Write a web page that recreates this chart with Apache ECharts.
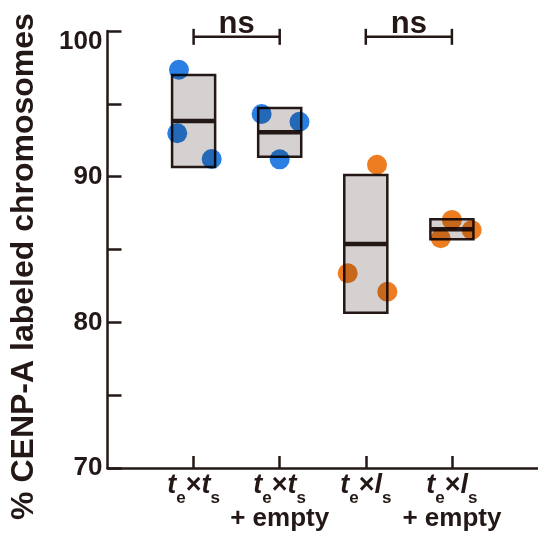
<!DOCTYPE html>
<html><head><meta charset="utf-8">
<script src="https://cdn.jsdelivr.net/npm/echarts/dist/echarts.min.js"></script>
<style>html,body{margin:0;padding:0;background:#fff}#c{width:538px;height:538px}</style>
</head><body><div id="c"></div>
<script>
// ---- data ----
const groupX = [1, 2, 3, 4];
const labelSecondLetter = ['t', 't', 'l', 'l'];
const labelExtraLine = ['', '+ empty', '', '+ empty'];
const boxLow = [90.66, 91.37, 80.66, 85.70];
const boxHigh = [96.98, 94.71, 90.11, 87.07];
const boxMean = [93.82, 93.05, 85.38, 86.39];
const dotX = [[0.83, 0.81, 1.21], [1.79, 2.23, 2.00], [3.13, 2.79, 3.25], [4.00, 4.23, 3.87]];
const dotY = [[97.34, 92.98, 91.21], [94.30, 93.77, 91.19], [90.82, 83.37, 82.10], [87.03, 86.34, 85.77]];
const groupColor = ['#2b7fe2', '#2b7fe2', '#ee7d22', '#ee7d22'];
const bracketFrom = [1, 3];
const bracketTo = [2, 4];
const bracketY = [99.6, 99.6];
const bracketText = ['ns', 'ns'];
const yMin = 70, yMax = 100, yTickStep = 5, yLabelStep = 10;
const yTitle = '% CENP-A labeled chromosomes';

// ---- style ----
const INK = '#231815';
const FONT = '"Liberation Sans", Arial, sans-serif';
const BOX_HALF = 0.25;

const boxData = groupX.map((x, i) => [x, boxLow[i], boxHigh[i], boxMean[i]]);
const dotData = [];
dotX.forEach((xs, g) => xs.forEach((x, k) => dotData.push({ value: [x, dotY[g][k]], itemStyle: { color: groupColor[g] } })));
const bracketData = bracketFrom.map((f, i) => [f, bracketTo[i], bracketY[i]]);

const chart = echarts.init(document.getElementById('c'), null, { renderer: 'canvas' });
chart.setOption({
  animation: false,
  backgroundColor: '#fff',
  textStyle: { fontFamily: FONT, color: INK },
  grid: { left: 107.5, right: 0, top: 31, bottom: 70, containLabel: false, outerBoundsMode: 'none' },
  xAxis: {
    type: 'value', min: 0, max: 5, interval: 1,
    axisLine: { show: true, onZero: false, lineStyle: { color: INK, width: 2.5 } },
    axisTick: { show: true, inside: true, length: 12, customValues: groupX, lineStyle: { color: INK, width: 2.5 } },
    splitLine: { show: false },
    axisLabel: {
      customValues: groupX, margin: 3, hideOverlap: false, color: INK,
      formatter: (v) => {
        const i = groupX.indexOf(v);
        let s = '{t|t}{sub|e}{x|×}{t|' + labelSecondLetter[i] + '}{sub|s}';
        if (labelExtraLine[i]) s += '\n{em|' + labelExtraLine[i] + '}';
        return s;
      },
      rich: {
        t: { fontSize: 27, fontStyle: 'italic', fontWeight: 'bold', lineHeight: 30, color: INK, fontFamily: FONT, verticalAlign: 'middle' },
        sub: { fontSize: 17, fontWeight: 'bold', lineHeight: 30, padding: [25, 0, 0, 0], color: INK, fontFamily: FONT, verticalAlign: 'middle' },
        x: { fontSize: 27, fontWeight: 'bold', lineHeight: 30, color: INK, fontFamily: FONT, verticalAlign: 'middle' },
        em: { fontSize: 26, fontWeight: 'bold', lineHeight: 35, color: INK, fontFamily: FONT, verticalAlign: 'middle' }
      }
    }
  },
  yAxis: {
    type: 'value', min: yMin, max: yMax, interval: yTickStep,
    name: yTitle, nameLocation: 'middle', nameGap: 67,
    nameTextStyle: { fontSize: 32, fontWeight: 'bold', color: INK, fontFamily: FONT, padding: [0, 34, 0, 0] },
    axisLine: { show: true, onZero: false, lineStyle: { color: INK, width: 2.5 } },
    axisTick: { show: true, inside: true, length: 14, lineStyle: { color: INK, width: 2.5 } },
    splitLine: { show: false },
    axisLabel: {
      margin: 5, fontSize: 26, fontWeight: 'bold', color: INK, fontFamily: FONT,
      formatter: (v) => (v === yMax ? '{top|' + v + '}' : (v % yLabelStep === 0 ? String(v) : '')),
      rich: { top: { fontSize: 26, fontWeight: 'bold', color: INK, fontFamily: FONT, padding: [22, 0, 0, 0] } }
    }
  },
  series: [
    {
      type: 'custom', z: 2, data: boxData, clip: false,
      renderItem: (params, api) => {
        const x = api.value(0), lo = api.value(1), hi = api.value(2), m = api.value(3);
        const tl = api.coord([x - BOX_HALF, hi]);
        const br = api.coord([x + BOX_HALF, lo]);
        const ml = api.coord([x - BOX_HALF, m]);
        const mr = api.coord([x + BOX_HALF, m]);
        return {
          type: 'group', children: [
            { type: 'rect', shape: { x: tl[0], y: tl[1], width: br[0] - tl[0], height: br[1] - tl[1] },
              style: { fill: '#d5d1d0', stroke: INK, lineWidth: 2.5 } },
            { type: 'line', shape: { x1: ml[0], y1: ml[1], x2: mr[0], y2: mr[1] },
              style: { stroke: INK, lineWidth: 4.5 } }
          ]
        };
      }
    },
    {
      type: 'scatter', z: 3, data: dotData, symbol: 'circle', symbolSize: 20,
      blendMode: 'multiply', itemStyle: { opacity: 1 }, clip: false
    },
    {
      type: 'custom', z: 4, data: bracketData, clip: false,
      renderItem: (params, api) => {
        const a = api.coord([api.value(0), api.value(2)]);
        const b = api.coord([api.value(1), api.value(2)]);
        const st = { stroke: INK, lineWidth: 2.5 };
        return {
          type: 'group', children: [
            { type: 'line', shape: { x1: a[0], y1: a[1], x2: b[0], y2: b[1] }, style: st },
            { type: 'line', shape: { x1: a[0], y1: a[1] - 8, x2: a[0], y2: a[1] + 8 }, style: st },
            { type: 'line', shape: { x1: b[0], y1: b[1] - 8, x2: b[0], y2: b[1] + 8 }, style: st },
            { type: 'text', x: (a[0] + b[0]) / 2, y: a[1] + 3,
              style: { text: bracketText[params.dataIndex], fill: INK, font: 'bold 31px ' + FONT,
                       align: 'center', verticalAlign: 'bottom' } }
          ]
        };
      }
    }
  ]
});
</script></body></html>
